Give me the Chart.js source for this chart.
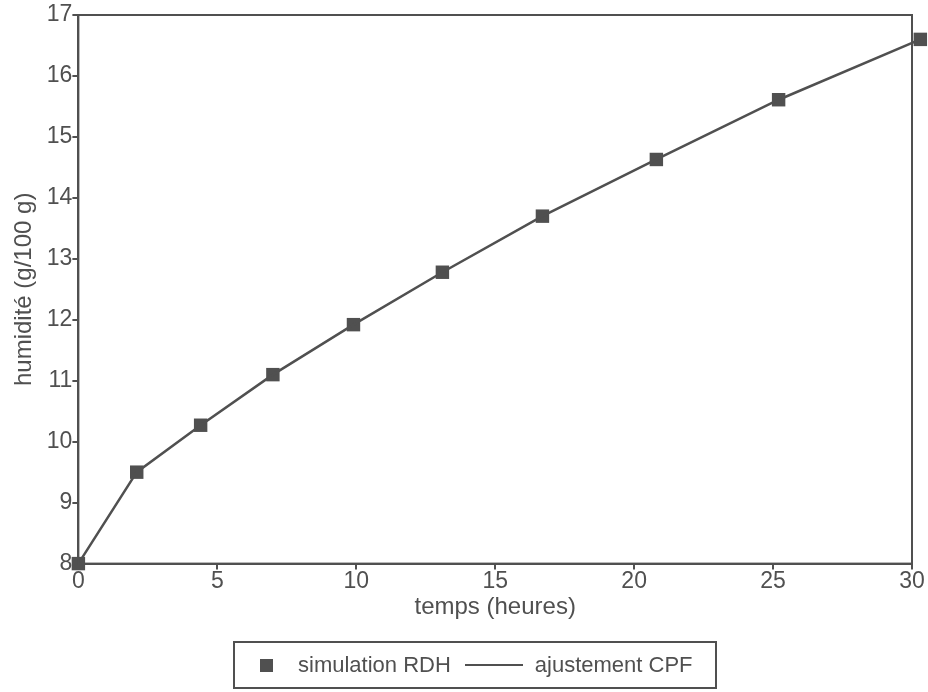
<!DOCTYPE html>
<html>
<head>
<meta charset="utf-8">
<script src="https://cdn.jsdelivr.net/npm/chart.js@4/dist/chart.umd.min.js"></script>
<style>
  html, body { margin: 0; padding: 0; background: #fff; }
  #wrap { position: relative; width: 928px; height: 692px; }
  #legend {
    position: absolute; left: 233px; top: 641px; width: 484px; height: 48px;
    border: 2px solid #505050; box-sizing: border-box; display: flex; align-items: center;
    font-family: "Liberation Sans", Arial, sans-serif; font-size: 22px; color: #505050;
  }
  #legend .sq { display: inline-block; width: 13px; height: 13px; background: #505050; margin-left: 25px; margin-right: 25px; }
  #legend .ln { display: inline-block; width: 58px; height: 2px; background: #505050; margin-left: 14px; margin-right: 12px; }
</style>
</head>
<body>
<div id="wrap">
  <canvas id="c" width="928" height="692"></canvas>
  <div id="legend"><span class="sq"></span><span>simulation RDH</span><span class="ln"></span><span>ajustement CPF</span></div>
</div>
<script>
const hours = [0, 2.1, 4.4, 7.0, 9.9, 13.1, 16.7, 20.8, 25.2, 30.3];
const rdhHumidity = [8.0, 9.5, 10.27, 11.1, 11.92, 12.78, 13.7, 14.63, 15.61, 16.6];
const cpfHumidity = [8.0, 9.5, 10.27, 11.1, 11.92, 12.78, 13.7, 14.63, 15.61, 16.6];
const xTicks = [0, 5, 10, 15, 20, 25, 30];
const yTicks = [8, 9, 10, 11, 12, 13, 14, 15, 16, 17];

const ink = '#505050';
const font = { family: '"Liberation Sans", Arial, sans-serif', size: 23 };

const framePlugin = {
  id: 'frame',
  afterDraw(chart) {
    const { ctx, chartArea: a } = chart;
    ctx.save();
    ctx.strokeStyle = ink;
    ctx.lineWidth = 2;
    ctx.strokeRect(a.left, a.top, a.right - a.left, a.bottom - a.top);
    ctx.restore();
  }
};

new Chart(document.getElementById('c'), {
  type: 'scatter',
  data: {
    datasets: [
      {
        label: 'ajustement CPF',
        data: hours.map((h, i) => ({ x: h, y: cpfHumidity[i] })),
        showLine: true,
        borderColor: ink,
        borderWidth: 2.5,
        pointRadius: 0,
        tension: 0,
        clip: false
      },
      {
        label: 'simulation RDH',
        data: hours.map((h, i) => ({ x: h, y: rdhHumidity[i] })),
        showLine: false,
        pointStyle: 'rect',
        pointRadius: 9.5,
        pointHoverRadius: 9.5,
        backgroundColor: ink,
        borderColor: ink,
        borderWidth: 0,
        clip: false
      }
    ]
  },
  options: {
    responsive: false,
    animation: false,
    layout: { padding: { top: 15, right: 16, bottom: 70, left: 10 } },
    plugins: { legend: { display: false }, tooltip: { enabled: false } },
    scales: {
      x: {
        type: 'linear', min: 0, max: 30,
        afterBuildTicks(axis) { axis.ticks = xTicks.map(v => ({ value: v })); },
        ticks: { color: ink, font, padding: -2 },
        grid: { drawOnChartArea: false, color: ink, tickLength: 6, tickWidth: 2, lineWidth: 2 },
        border: { color: ink, width: 2 },
        title: { display: true, text: 'temps (heures)', color: ink, font: { ...font, size: 24 }, padding: { top: 0, bottom: 0 } }
      },
      y: {
        type: 'linear', min: 8, max: 17,
        afterBuildTicks(axis) { axis.ticks = yTicks.map(v => ({ value: v })); },
        ticks: { color: ink, font, padding: 0 },
        grid: { drawOnChartArea: false, color: ink, tickLength: 6, tickWidth: 2, lineWidth: 2 },
        border: { color: ink, width: 2 },
        title: { display: true, text: 'humidité (g/100 g)', color: ink, font: { ...font, size: 24 }, padding: { top: 0, bottom: 8 } }
      }
    }
  },
  plugins: [framePlugin]
});
</script>
</body>
</html>
